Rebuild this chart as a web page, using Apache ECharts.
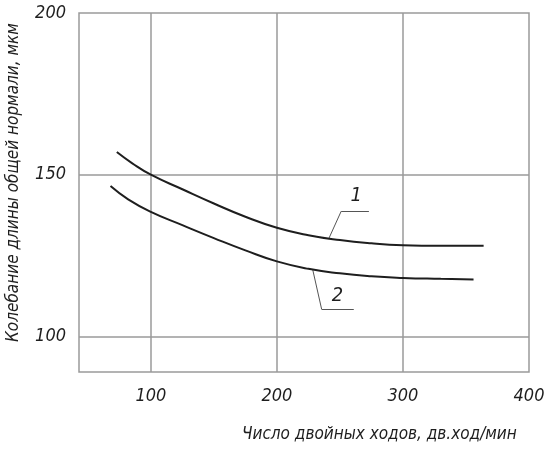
<!DOCTYPE html>
<html>
<head>
<meta charset="utf-8">
<script src="https://cdn.jsdelivr.net/npm/echarts@6/dist/echarts.min.js"></script>
<style>
    html, body { margin: 0; padding: 0; background: #fff; }
    #chart { width: 550px; height: 449px; }
</style>
</head>
<body>
<div id="chart"></div>
<script>
// данные кривых (число двойных ходов -> колебание, мкм)
var curve1 = [[73, 157], [85, 153.6], [100, 150], [125, 145.5], [150, 141.1], [175, 137.0],
    [200, 133.6], [225, 131.3], [250, 129.8], [275, 128.8], [300, 128.2], [330, 128], [364, 128]];
var curve2 = [[68, 146.5], [82, 142.4], [100, 138.5], [125, 134.4], [150, 130.4], [175, 126.6],
    [200, 123.2], [225, 120.9], [250, 119.5], [275, 118.6], [300, 118.1], [330, 117.8], [356, 117.6]];
var xTicks = [100, 200, 300, 400];
var yTicks = [100, 150, 200];
var xGrid = [100, 200, 300];
var yGrid = [100, 150];
// выноски: точка на кривой, излом, конец полки
var leader1 = [[241, 130.1], [251, 138.7], [273, 138.7]];
var leader2 = [[228.5, 120.5], [235.5, 108.4], [261, 108.4]];
var labels = [{ name: '1', coord: [263, 143.5] }, { name: '2', coord: [248, 112.7] }];

var font = 'DejaVu Sans Condensed';
var ink = '#1e1e1e';
var gridColor = '#9a9a9a';

function leaderLines(pts) {
    var out = [];
    for (var i = 0; i < pts.length - 1; i++) {
        out.push([{ coord: pts[i] }, { coord: pts[i + 1] }]);
    }
    return out;
}

var chart = echarts.init(document.getElementById('chart'));
var option = {
    animation: false,
    backgroundColor: '#fff',
    grid: {
        left: 79, top: 13, right: 21, bottom: 77,
        show: true, borderColor: gridColor, borderWidth: 1.5
    },
    xAxis: {
        type: 'value',
        min: 43, max: 400,
        axisLine: { show: false },
        axisTick: { show: false },
        splitLine: { show: false },
        axisLabel: {
            customValues: xTicks,
            margin: 15,
            fontFamily: font, fontStyle: 'italic', fontSize: 18, color: ink
        }
    },
    yAxis: {
        type: 'value',
        min: 89, max: 200,
        axisLine: { show: false },
        axisTick: { show: false },
        splitLine: { show: false },
        axisLabel: {
            customValues: yTicks,
            margin: 13,
            fontFamily: font, fontStyle: 'italic', fontSize: 18, color: ink
        }
    },
    graphic: [
        {
            type: 'text', left: 242, top: 426,
            style: { text: 'Число двойных ходов, дв.ход/мин', font: 'italic 17px "' + font + '"', fill: ink }
        },
        {
            type: 'text', x: 5, y: 342, rotation: Math.PI / 2,
            style: { text: 'Колебание длины общей нормали, мкм', font: 'italic 17px "' + font + '"', fill: ink }
        }
    ],
    series: [
        {
            type: 'line', data: curve1, smooth: 0.5, symbol: 'none',
            lineStyle: { color: ink, width: 2 }, z: 5
        },
        {
            type: 'line', data: curve2, smooth: 0.5, symbol: 'none',
            lineStyle: { color: ink, width: 2 }, z: 5
        },
        {
            // сетка
            type: 'line', data: [], silent: true,
            markLine: {
                silent: true, symbol: 'none', label: { show: false },
                lineStyle: { color: gridColor, width: 1.5, type: 'solid' },
                data: xGrid.map(function (v) { return { xAxis: v }; })
                    .concat(yGrid.map(function (v) { return { yAxis: v }; }))
            }
        },
        {
            // выноски с номерами кривых
            type: 'line', data: [], silent: true,
            markLine: {
                silent: true, symbol: 'none', label: { show: false },
                lineStyle: { color: '#555', width: 1, type: 'solid' },
                data: leaderLines(leader1).concat(leaderLines(leader2))
            },
            markPoint: {
                silent: true,
                symbol: 'circle', symbolSize: 1,
                itemStyle: { color: 'rgba(0,0,0,0)' },
                label: {
                    show: true, position: 'inside', formatter: '{b}',
                    fontFamily: font, fontStyle: 'italic', fontSize: 20, color: ink
                },
                data: labels
            }
        }
    ]
};
chart.setOption(option);
</script>
</body>
</html>
